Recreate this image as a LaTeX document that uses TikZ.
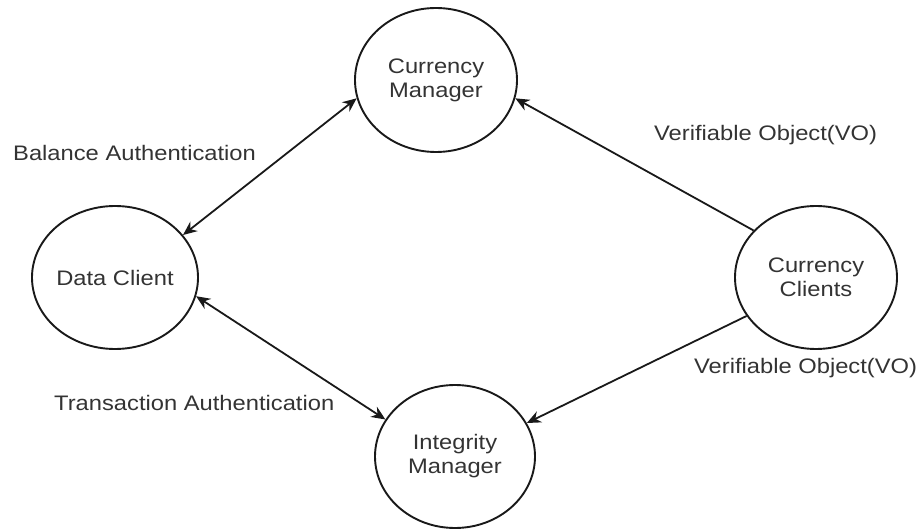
\documentclass[tikz,border=0pt]{standalone}
\usepackage{fontspec}
\setmainfont[FakeStretch=1.13]{Liberation Sans}
\usetikzlibrary{shapes.geometric,arrows.meta}
\begin{document}
\begin{tikzpicture}[x=1pt,y=-1pt,
  txt/.style={font=\fontsize{21}{24}\selectfont, text=black!80},
  bubble/.style={ellipse, draw=black!90, line width=1.9pt, inner sep=0pt, align=center, txt},
  lbl/.style={txt, anchor=west, inner sep=0pt},
  tip/.style={Stealth[length=14pt,width=12pt]},
  conn/.style={line width=1.8pt, draw=black!90, -{Stealth[length=14pt,width=12pt]}},
  biconn/.style={line width=1.8pt, draw=black!90, {Stealth[length=14pt,width=12pt]}-{Stealth[length=14pt,width=12pt]}}
]
\useasboundingbox (0,0) rectangle (924,529);
\node[bubble, minimum width=162pt, minimum height=144pt] (cm) at (436,80) {Currency\\Manager};
\node[bubble, minimum width=160pt, minimum height=143pt] (dc) at (115,277.5) {Data Client};
\node[bubble, minimum width=162pt, minimum height=143pt] (cc) at (816,277.5) {Currency\\Clients};
\node[bubble, minimum width=160pt, minimum height=143pt] (im) at (455,456.5) {Integrity\\Manager};

\draw[biconn] (dc.32) -- (cm.193.5);
\draw[biconn] (dc.-13.4) -- (im.152);
\draw[conn] (cc.143) -- (cm.-13.5);
\draw[conn] (cc.209) -- (im.25);

\node[lbl] (l1) at (13,153) {Balance Authentication};
\node[lbl] (l2) at (654,135) {Verifiable Object(VO)};
\node[lbl] (l3) at (694,368) {Verifiable Object(VO)};
\node[lbl] (l4) at (54,403) {Transaction Authentication};
\end{tikzpicture}
\end{document}
